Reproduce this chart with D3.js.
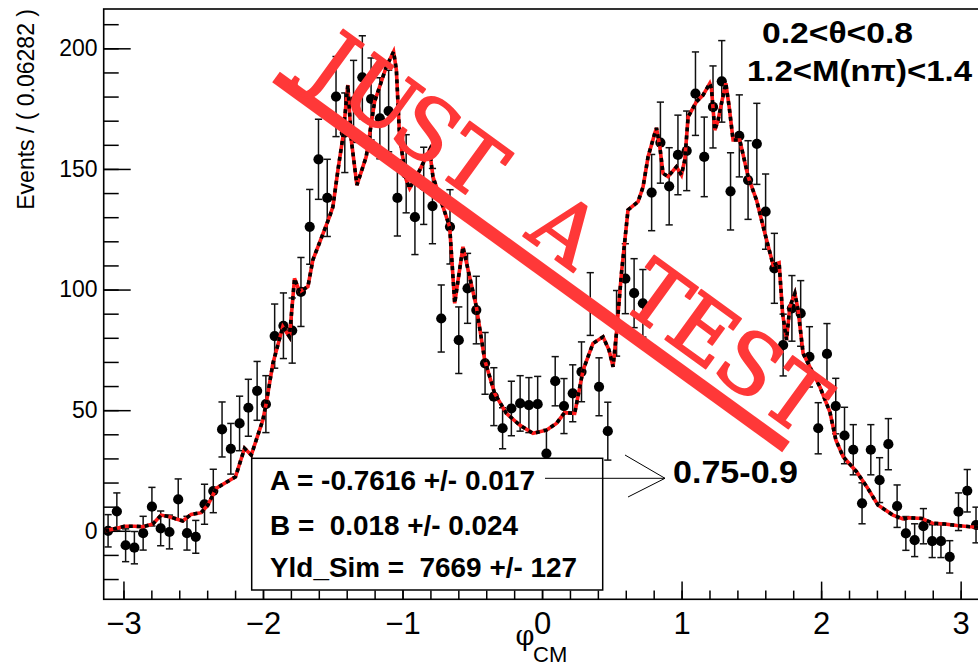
<!DOCTYPE html>
<html><head><meta charset="utf-8">
<script src="https://cdn.jsdelivr.net/npm/d3@7"></script>
<style>body{margin:0;background:#fff}svg{display:block}</style>
</head><body><svg id="c" width="978" height="665"></svg>
<script>
const nBins = 100;
const dataValues = [0,8,-6,-7,-1,10,1,-0.5,13,-1,
 -2.5,11,16.5,42,34,44.5,51,58,52.5,80.7,
 85,83,99,126,154,138,180,165,178,188,
 179,171,174,138,148,130,143,134.6,88,126,
 79,100.5,91.5,69.4,55.6,42.5,50.7,52.8,52.1,52.5,
 32,62,51.7,57,65.9,94,59.7,41.3,86,104.5,
 98.5,94.3,140.2,160.9,142.8,155.8,157.5,181.2,155,175.7,
 186.3,140.7,163.7,145.4,160.4,132.3,108.8,77,92.2,90.1,
 72.1,42.5,73.3,51.7,39.5,33.6,11.4,33.6,21,35.9,
 10.2,-1.1,-3.9,1.9,-4.3,-4.3,-10.8,7.9,16.6,2.4];
const dataErrors = [6.7,7.7,6.8,6.7,7,8,7.2,7,8.5,7,
 6.8,8.3,9,11.4,10.5,11.3,11.8,12.2,11.8,13.3,
 13.6,13.5,14.3,15.5,16.6,16,16.6,16.5,17,17.2,
 17,16.8,16.9,15.8,16.2,15.5,16,15.6,13.9,15.4,
 13.8,14.5,14,12.8,12,8.5,11.3,11.5,11.4,11.5,
 10,10.2,11.4,11.8,12.4,13,12,12,13.6,14.5,
 14.3,14,15.8,16.8,16,16.5,16.5,17.3,16.5,17,
 16.9,16,17,16.3,16.8,15.6,14.5,12.8,13.6,13.6,
 12.5,10.6,12.6,11.5,11.7,10.4,8.5,10.4,9.3,10.6,
 8.8,7,6.8,7.3,6.8,6.8,6.7,7.8,8.8,7.4];
const curveX = [-3.13,-3.052,-2.993,-2.921,-2.862,-2.790,-2.730,-2.670,-2.575,-2.515,-2.443,-2.395,-2.335,-2.197,-2.132,-2.084,-2.001,-1.977,-1.929,-1.858,-1.810,-1.774,-1.738,-1.678,-1.643,-1.523,-1.499,-1.463,-1.427,-1.392,-1.367,-1.327,-1.260,-1.200,-1.116,-1.064,-1.044,-1.021,-0.973,-0.949,-0.877,-0.806,-0.782,-0.662,-0.626,-0.567,-0.471,-0.411,-0.340,-0.256,-0.160,-0.065,0.031,0.103,0.162,0.234,0.294,0.365,0.437,0.480,0.509,0.533,0.569,0.616,0.688,0.724,0.760,0.808,0.820,0.844,0.867,0.903,0.963,0.999,1.023,1.047,1.107,1.154,1.202,1.214,1.238,1.262,1.286,1.317,1.341,1.369,1.417,1.477,1.537,1.597,1.656,1.699,1.724,1.752,1.776,1.812,1.835,1.871,1.919,1.991,2.063,2.106,2.158,2.254,2.328,2.407,2.515,2.586,2.636,2.723,2.801,2.887,2.973,3.067,3.14];
const curveY = [0,1.0,1.9,1.9,1.7,2.8,6.5,5.8,4.1,6.8,7.5,10.7,17.6,22.4,34.2,31.4,45.9,52.8,69.4,84.6,80.4,104.6,99.1,101.2,112.2,130.2,134.3,149.5,163.3,184.8,162.0,143.3,155.1,177.9,192.4,198.6,191.0,163.3,145.4,142.0,149.5,157.8,146.8,126.0,94.3,117.7,92.9,70.8,57.0,48.7,43.8,40.4,41.7,44.5,49.0,48.7,66.6,77.7,80.4,74.9,68.0,81.8,106.7,133.0,136.4,142.6,155.1,164.8,167.0,159.2,148.2,146.8,150.9,147.5,153.7,171.6,177.9,180.6,185.5,183.4,166.1,170.3,177.2,185.5,175.8,162.0,162.0,146.8,137.1,123.3,110.2,111.1,90.1,79.1,92.9,98.4,91.5,73.5,68.0,59.7,49.2,37.6,30.7,24.5,18.2,10.7,6.5,4.9,5.4,5.1,3.1,2.8,2.2,1.7,1.5];
const xTickValues = [-3,-2,-1,0,1,2,3];
const xMinorTicks = [-3,-2.8,-2.6,-2.4,-2.2,-2,-1.8,-1.6,-1.4,-1.2,-1,-0.8,-0.6,-0.4,-0.2,0,0.2,0.4,0.6,0.8,1,1.2,1.4,1.6,1.8,2,2.2,2.4,2.6,2.8,3];
const yTickValues = [0,50,100,150,200];
const yMinorTicks = [-20,-10,0,10,20,30,40,50,60,70,80,90,100,110,120,130,140,150,160,170,180,190,200,210];
const yAxisTitle = "Events / ( 0.06282 )";
const xTitleMain = "φ", xTitleSub = "CM";
const statLines = ["A = -0.7616 +/- 0.017", "B =  0.018 +/- 0.024", "Yld_Sim =  7669 +/- 127"];
const cutLines = ["0.2<θ<0.8", "1.2<M(nπ)<1.4"];
const arrowLabel = "0.75-0.9";
const watermark = "JUST A TEST";

const SANS = "'Liberation Sans', Arial, Helvetica, sans-serif";
const svg = d3.select("#c");
const x = d3.scaleLinear().domain([-Math.PI, Math.PI]).range([103.7, 980.4]);
const y = d3.scaleLinear().domain([-28.4, 216.3]).range([599.3, 9]);
const binW = 2*Math.PI/nBins;
const pts = dataValues.map((v,i)=>({phi:-Math.PI+(i+0.5)*binW, v, e:dataErrors[i]}));

svg.append("rect").attr("width",978).attr("height",665).attr("fill","#fff");

function styleAxis(g, fs){
  g.select(".domain").remove();
  g.selectAll("line").attr("stroke","#000").attr("stroke-width",1.5);
  g.selectAll("text").attr("font-size",fs).attr("font-family",SANS).attr("fill","#000");
}
const fmt = d3.format("d");
const gxMin = svg.append("g").attr("transform","translate(0,599.3)")
  .call(d3.axisBottom(x).tickValues(xMinorTicks).tickSize(-8.7).tickFormat(""));
styleAxis(gxMin,0);
const gx = svg.append("g").attr("transform","translate(0,599.3)")
  .call(d3.axisBottom(x).tickValues(xTickValues).tickSize(-17.7).tickPadding(12.2).tickFormat(fmt));
styleAxis(gx,31);
const gyMin = svg.append("g").attr("transform","translate(103.7,0)")
  .call(d3.axisLeft(y).tickValues(yMinorTicks).tickSize(-15).tickFormat(""));
styleAxis(gyMin,0);
const gy = svg.append("g").attr("transform","translate(103.7,0)")
  .call(d3.axisLeft(y).tickValues(yTickValues).tickSize(-27).tickPadding(6.2).tickFormat(fmt));
styleAxis(gy,23);

svg.append("rect").attr("x",x(-Math.PI)).attr("y",y(216.3))
  .attr("width",x(Math.PI)-x(-Math.PI)).attr("height",y(-28.4)-y(216.3))
  .attr("fill","none").attr("stroke","#000").attr("stroke-width",1.6);

svg.append("text").attr("transform","translate(33.5,9) rotate(-90)")
  .attr("text-anchor","end").attr("font-family",SANS).attr("font-size",23).text(yAxisTitle);
svg.append("text").attr("x",515.5).attr("y",645).attr("font-family","'DejaVu Serif', serif")
  .attr("font-size",27).text(xTitleMain);
svg.append("text").attr("x",533).attr("y",661.5).attr("font-family",SANS).attr("font-size",22).text(xTitleSub);

const gp = svg.append("g");
pts.forEach(p=>{
  const cx = x(p.phi), y1 = y(p.v+p.e), y2 = y(p.v-p.e);
  gp.append("line").attr("x1",cx).attr("x2",cx).attr("y1",y1).attr("y2",y2).attr("stroke","#111").attr("stroke-width",1.5);
  gp.append("line").attr("x1",cx-3.6).attr("x2",cx+3.6).attr("y1",y1).attr("y2",y1).attr("stroke","#111").attr("stroke-width",1.5);
  gp.append("line").attr("x1",cx-3.6).attr("x2",cx+3.6).attr("y1",y2).attr("y2",y2).attr("stroke","#111").attr("stroke-width",1.5);
  gp.append("circle").attr("cx",cx).attr("cy",y(p.v)).attr("r",5.1).attr("fill","#000");
});

const cpts = curveX.map((cx,i)=>[cx, curveY[i]]);
const line = d3.line().x(d=>x(d[0])).y(d=>y(d[1]));
svg.append("path").attr("d",line(cpts)).attr("fill","none").attr("stroke","#ff1a1a").attr("stroke-width",3.6);
svg.append("path").attr("d",line(cpts)).attr("fill","none").attr("stroke","#000").attr("stroke-width",3.6).attr("stroke-dasharray","4,4");

svg.append("rect").attr("x",251.7).attr("y",458.3).attr("width",351).attr("height",131.7)
  .attr("fill","#fff").attr("stroke","#000").attr("stroke-width",1.5);
const statY = [490, 534.5, 576.5], statW = [265, 248, 307];
statLines.forEach((t,i)=>{
  svg.append("text").attr("x",270).attr("y",statY[i]).attr("font-family",SANS).attr("font-weight","bold")
    .attr("font-size",28).attr("textLength",statW[i]).attr("lengthAdjust","spacingAndGlyphs")
    .style("white-space","pre").text(t);
});

svg.append("line").attr("x1",545).attr("x2",665).attr("y1",478.3).attr("y2",478.3).attr("stroke","#000").attr("stroke-width",1);
svg.append("path").attr("d","M625,455L665,478.3L628,497").attr("fill","none").attr("stroke","#000").attr("stroke-width",1);
svg.append("text").attr("x",673).attr("y",483.3).attr("font-family",SANS).attr("font-weight","bold")
  .attr("font-size",32).attr("textLength",125).attr("lengthAdjust","spacingAndGlyphs").text(arrowLabel);

const cutX = [762, 747], cutYs = [43, 81], cutW = [151, 225];
cutLines.forEach((t,i)=>{
  svg.append("text").attr("x",cutX[i]).attr("y",cutYs[i]).attr("font-family",SANS).attr("font-weight","bold")
    .attr("font-size",30).attr("textLength",cutW[i]).attr("lengthAdjust","spacingAndGlyphs").text(t);
});

// watermark
const red = "#ff3838";
svg.append("line").attr("x1",276).attr("y1",77).attr("x2",786).attr("y2",447)
  .attr("stroke",red).attr("stroke-width",13);
const wg = svg.append("g").attr("transform","translate(548,254) rotate(36)");
const chars = watermark.split("");
wg.selectAll("text").data(chars).join("text")
  .attr("x",(d,i)=>(i-(chars.length-1)/2)*57)
  .attr("text-anchor","middle")
  .attr("font-family","'DejaVu Serif', 'Liberation Serif', serif")
  .attr("font-size",84).attr("fill",red).attr("stroke",red).attr("stroke-width",1.8)
  .attr("stroke-linejoin","round")
  .text(d=>d);
</script></body></html>
